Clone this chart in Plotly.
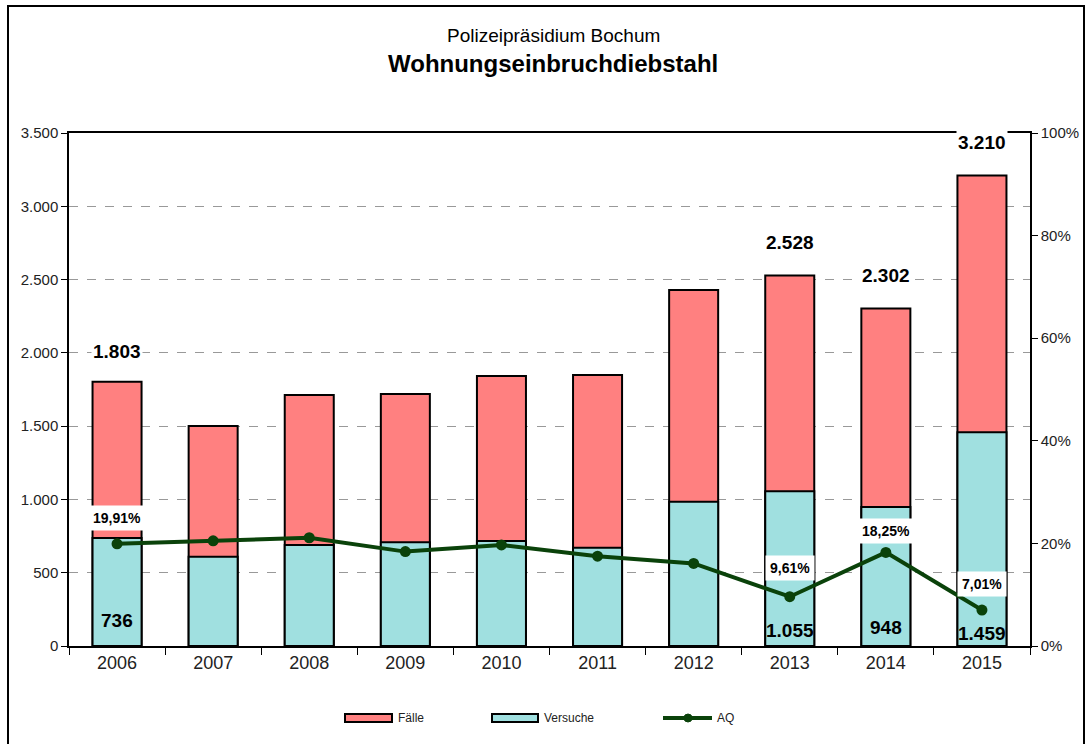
import plotly.graph_objects as go
from plotly.subplots import make_subplots

# ---- data ----
years = ["2006", "2007", "2008", "2009", "2010", "2011", "2012", "2013", "2014", "2015"]
faelle = [1803, 1501, 1712, 1719, 1842, 1849, 2429, 2528, 2302, 3210]
versuche = [736, 609, 689, 707, 716, 671, 985, 1055, 948, 1459]
aq = [19.91, 20.5, 21.1, 18.4, 19.7, 17.5, 16.1, 9.61, 18.25, 7.01]
labelled_years = ["2006", "2013", "2014", "2015"]
series_names = ["Fälle", "Versuche", "AQ"]
y_ticks = [0, 500, 1000, 1500, 2000, 2500, 3000, 3500]
y2_ticks = [0, 0.2, 0.4, 0.6, 0.8, 1.0]

# ---- style ----
FONT = "Liberation Sans, Arial, sans-serif"
RED = "#FF8080"
CYAN = "#A0E0E0"
GREEN = "#0A420A"
total_shift = {"2006": 30, "2013": 33, "2014": 33, "2015": 33}
versuche_shift = {"2006": 26, "2013": 16, "2014": 19, "2015": 13}
aq_shift = {"2006": 26, "2013": 29, "2014": 21, "2015": 26}

W, H = 1086, 744
L, R, T, B = 69, 56, 133, 98
PW, PH = W - L - R, H - T - B


def px_x(px):
    return (px - L) / PW


def px_y(py):
    return (H - B - py) / PH


fig = make_subplots(specs=[[{"secondary_y": True}]])

fig.add_trace(go.Bar(x=years, y=faelle, name=series_names[0],
                     marker=dict(color=RED, line=dict(color="black", width=2)), width=0.51),
              secondary_y=False)
fig.add_trace(go.Bar(x=years, y=versuche, name=series_names[1],
                     marker=dict(color=CYAN, line=dict(color="black", width=2)), width=0.51),
              secondary_y=False)
fig.add_trace(go.Scatter(x=years, y=[v / 100 for v in aq], name=series_names[2], mode="lines+markers",
                         line=dict(color=GREEN, width=4), marker=dict(color=GREEN, size=11)),
              secondary_y=True)


def de_num(v):
    return f"{v:,}".replace(",", ".")


annotations = []
for i, yr in enumerate(years):
    if yr not in labelled_years:
        continue
    annotations.append(dict(x=i, y=faelle[i], xref="x", yref="y", text=de_num(faelle[i]), showarrow=False,
                            yshift=total_shift[yr], font=dict(family=FONT, size=19, color="black", weight="bold"),
                            bgcolor="white"))
    annotations.append(dict(x=i, y=0, xref="x", yref="y", text=de_num(versuche[i]), showarrow=False,
                            yshift=versuche_shift[yr],
                            font=dict(family=FONT, size=19, color="black", weight="bold")))
    annotations.append(dict(x=i, y=aq[i] / 100, xref="x", yref="y2", text=f"{aq[i]:.2f}%".replace(".", ","),
                            showarrow=False, yshift=aq_shift[yr], bgcolor="white", borderpad=4,
                            font=dict(family=FONT, size=14, color="black", weight="bold")))

annotations.append(dict(x=px_x(553), y=px_y(36), xref="paper", yref="paper", text="Polizeipräsidium Bochum",
                        showarrow=False, yanchor="middle", font=dict(family=FONT, size=19, color="black")))
annotations.append(dict(x=px_x(553), y=px_y(64), xref="paper", yref="paper", text="Wohnungseinbruchdiebstahl",
                        showarrow=False, yanchor="middle",
                        font=dict(family=FONT, size=24, color="black", weight="bold")))

# custom legend (wide swatches like the original)
shapes = [dict(type="rect", xref="paper", yref="paper", x0=px_x(8), x1=px_x(1084), y0=px_y(790), y1=px_y(6),
               line=dict(color="black", width=2), layer="below")]
leg_y = 718
legend_items = [(series_names[0], RED, 345, 392, 396), (series_names[1], CYAN, 492, 538, 542)]
for name, col, x0, x1, tx in legend_items:
    shapes.append(dict(type="rect", xref="paper", yref="paper", x0=px_x(x0), x1=px_x(x1),
                       y0=px_y(leg_y + 4), y1=px_y(leg_y - 4), fillcolor=col,
                       line=dict(color="black", width=2)))
    annotations.append(dict(x=px_x(tx), y=px_y(leg_y), xref="paper", yref="paper", text=name, showarrow=False,
                            xanchor="left", yanchor="middle", font=dict(family=FONT, size=12, color="#222")))
shapes.append(dict(type="line", xref="paper", yref="paper", x0=px_x(663), x1=px_x(712), y0=px_y(leg_y),
                   y1=px_y(leg_y), line=dict(color=GREEN, width=4)))
shapes.append(dict(type="circle", xref="paper", yref="paper", x0=px_x(684), x1=px_x(692), y0=px_y(leg_y + 4),
                   y1=px_y(leg_y - 4), fillcolor=GREEN, line=dict(color=GREEN, width=1)))
annotations.append(dict(x=px_x(715), y=px_y(leg_y), xref="paper", yref="paper", text=series_names[2],
                        showarrow=False, xanchor="left", yanchor="middle",
                        font=dict(family=FONT, size=12, color="#222")))

fig.update_layout(
    width=W, height=H,
    margin=dict(l=L, r=R, t=T, b=B, autoexpand=False),
    paper_bgcolor="white", plot_bgcolor="white",
    barmode="overlay",
    separators=",.",
    font=dict(family=FONT, color="#222"),
    annotations=annotations,
    showlegend=False,
    shapes=shapes,
)

fig.update_xaxes(type="category", range=[-0.5, 9.5], domain=[0, 1], automargin=False, showline=True,
                 linecolor="black", linewidth=1.5, mirror=True, ticks="outside", tickson="boundaries",
                 ticklen=7, tickcolor="black", tickfont=dict(size=18, color="#222"), tickangle=0,
                 showgrid=False)
fig.update_yaxes(range=[0, 3500], tickvals=y_ticks, tickformat=",d", showline=True, linecolor="black",
                 automargin=False, linewidth=1.5, ticks="outside", ticklen=6, tickcolor="black",
                 tickfont=dict(size=15, color="#222"), showgrid=True, gridcolor="#999", griddash="dash",
                 gridwidth=1, zeroline=False, secondary_y=False)
fig.update_yaxes(range=[0, 1], tickvals=y2_ticks, tickformat=".0%", showline=True, linecolor="black",
                 automargin=False, linewidth=1.5, ticks="outside", ticklen=6, tickcolor="black",
                 tickfont=dict(size=15, color="#222"), showgrid=False, zeroline=False, secondary_y=True)

fig.write_html("out.html", config={"displayModeBar": False})

# remove the default page margin so the figure sits at the window's top-left corner
with open("out.html", "r", encoding="utf-8") as f:
    html = f.read()
html = html.replace("<body>", '<body style="margin:0;padding:0;">', 1)
with open("out.html", "w", encoding="utf-8") as f:
    f.write(html)
